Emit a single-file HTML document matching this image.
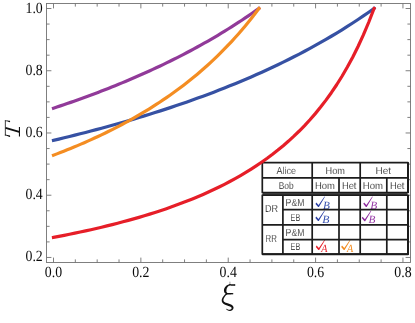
<!DOCTYPE html>
<html><head><meta charset="utf-8"><title>plot</title>
<style>
html,body{margin:0;padding:0;background:#fff;}
svg{display:block;will-change:transform;}
text{font-family:"Liberation Serif",serif;text-rendering:geometricPrecision;}
.tl{font-size:15.6px;fill:#0a0a0a;}
.tb{font-family:"Liberation Sans",sans-serif;font-size:9.3px;fill:#161616;stroke:#fff;stroke-width:0.14px;}
</style></head><body>
<svg width="415" height="323" viewBox="0 0 415 323">
<rect x="0" y="0" width="415" height="323" fill="#fff"/>
<g id="frame" stroke="#727272" stroke-width="0.9" fill="none">
<rect x="46.5" y="3.5" width="364.0" height="259.0"/>
<path d="M53.50 3.50v4.90M53.50 262.50v-4.90M75.34 3.50v3.10M75.34 262.50v-3.10M97.18 3.50v3.10M97.18 262.50v-3.10M119.02 3.50v3.10M119.02 262.50v-3.10M140.86 3.50v4.90M140.86 262.50v-4.90M162.70 3.50v3.10M162.70 262.50v-3.10M184.54 3.50v3.10M184.54 262.50v-3.10M206.38 3.50v3.10M206.38 262.50v-3.10M228.22 3.50v4.90M228.22 262.50v-4.90M250.06 3.50v3.10M250.06 262.50v-3.10M271.90 3.50v3.10M271.90 262.50v-3.10M293.74 3.50v3.10M293.74 262.50v-3.10M315.58 3.50v4.90M315.58 262.50v-4.90M337.42 3.50v3.10M337.42 262.50v-3.10M359.26 3.50v3.10M359.26 262.50v-3.10M381.10 3.50v3.10M381.10 262.50v-3.10M402.94 3.50v4.90M402.94 262.50v-4.90M46.50 257.46h4.90M410.50 257.46h-4.90M46.50 241.90h3.10M410.50 241.90h-3.10M46.50 226.34h3.10M410.50 226.34h-3.10M46.50 210.78h3.10M410.50 210.78h-3.10M46.50 195.22h4.90M410.50 195.22h-4.90M46.50 179.66h3.10M410.50 179.66h-3.10M46.50 164.10h3.10M410.50 164.10h-3.10M46.50 148.54h3.10M410.50 148.54h-3.10M46.50 132.98h4.90M410.50 132.98h-4.90M46.50 117.42h3.10M410.50 117.42h-3.10M46.50 101.86h3.10M410.50 101.86h-3.10M46.50 86.30h3.10M410.50 86.30h-3.10M46.50 70.74h4.90M410.50 70.74h-4.90M46.50 55.18h3.10M410.50 55.18h-3.10M46.50 39.62h3.10M410.50 39.62h-3.10M46.50 24.06h3.10M410.50 24.06h-3.10M46.50 8.50h4.90M410.50 8.50h-4.90"/>
</g>
<g id="ticklabels" class="tl">
<text transform="translate(44.84 277.40) scale(0.888 1)">0.0</text>
<text transform="translate(132.20 277.40) scale(0.888 1)">0.2</text>
<text transform="translate(219.56 277.40) scale(0.888 1)">0.4</text>
<text transform="translate(306.92 277.40) scale(0.888 1)">0.6</text>
<text transform="translate(394.28 277.40) scale(0.888 1)">0.8</text>
<text transform="translate(25.48 261.00) scale(0.888 1)">0.2</text>
<text transform="translate(25.48 199.00) scale(0.888 1)">0.4</text>
<text transform="translate(25.48 137.00) scale(0.888 1)">0.6</text>
<text transform="translate(25.48 75.00) scale(0.888 1)">0.8</text>
<text transform="translate(25.48 13.00) scale(0.888 1)">1.0</text>
</g>
<g id="axislabels">
<g id="xi">
<path d="M229.99 284.05L229.86 284.09L229.70 284.14L229.50 284.20L229.27 284.27L229.02 284.35L228.75 284.44L228.48 284.53L228.19 284.64L227.91 284.75L227.63 284.88L227.36 285.02L227.11 285.17L226.88 285.33L226.65 285.50L226.44 285.67L226.23 285.86L226.02 286.05L225.83 286.24L225.64 286.44L225.46 286.65L225.29 286.85L225.12 287.06L224.97 287.27L224.83 287.48L224.70 287.69L224.58 287.92L224.46 288.14L224.36 288.37L224.28 288.59L224.20 288.82L224.13 289.04L224.08 289.26L224.03 289.48L224.00 289.69L223.97 289.90L223.95 290.12L223.95 290.34L223.95 290.56L223.97 290.78L223.99 291.00L224.03 291.22L224.08 291.43L224.13 291.64L224.20 291.84L224.27 292.04L224.35 292.23L224.44 292.42L224.54 292.64L224.71 292.89L224.90 293.11L225.10 293.28L225.28 293.41L225.45 293.52L225.59 293.60L225.71 293.66L225.79 293.70L225.83 293.71L225.84 293.67L225.84 293.58L225.86 293.49L225.88 293.46L225.88 293.49L225.84 293.57L225.76 293.68L225.65 293.80L225.52 293.94L225.36 294.09L225.19 294.25L225.02 294.42L224.84 294.60L224.66 294.79L224.50 294.99L224.35 295.18L224.20 295.36L224.04 295.56L223.87 295.76L223.71 295.96L223.54 296.17L223.37 296.38L223.21 296.59L223.05 296.81L222.90 297.02L222.76 297.24L222.64 297.45L222.52 297.65L222.42 297.86L222.32 298.06L222.22 298.26L222.13 298.47L222.05 298.67L221.98 298.88L221.91 299.09L221.86 299.31L221.81 299.52L221.78 299.74L221.75 299.96L221.74 300.17L221.73 300.38L221.74 300.60L221.75 300.81L221.77 301.03L221.81 301.25L221.86 301.47L221.92 301.69L222.00 301.90L222.09 302.12L222.19 302.33L222.32 302.54L222.45 302.74L222.60 302.93L222.76 303.11L222.93 303.28L223.10 303.44L223.28 303.60L223.47 303.75L223.67 303.89L223.87 304.03L224.08 304.17L224.29 304.30L224.52 304.43L224.76 304.56L225.02 304.69L225.28 304.81L225.55 304.91L225.82 305.02L226.08 305.12L226.35 305.22L226.61 305.31L226.87 305.40L227.12 305.49L227.36 305.58L227.60 305.68L227.86 305.78L228.13 305.88L228.40 305.98L228.67 306.08L228.94 306.17L229.19 306.26L229.44 306.36L229.67 306.45L229.89 306.53L230.08 306.62L230.25 306.70L230.40 306.78L230.55 306.87L230.69 306.96L230.83 307.05L230.95 307.14L231.07 307.23L231.18 307.31L231.27 307.40L231.35 307.47L231.42 307.54L231.47 307.61L231.52 307.66L231.55 307.70L231.57 307.74L231.60 307.79L231.62 307.86L231.63 307.94L231.64 308.03L231.64 308.13L231.63 308.23L231.61 308.33L231.58 308.43L231.55 308.53L231.51 308.62L231.47 308.70L231.42 308.78L231.35 308.87L231.26 308.97L231.15 309.07L231.03 309.16L230.90 309.25L230.77 309.34L230.63 309.42L230.48 309.50L230.34 309.56L230.21 309.62L230.08 309.66L229.95 309.69L229.81 309.72L229.65 309.74L229.47 309.75L229.29 309.75L229.10 309.74L228.92 309.72L228.73 309.70L228.54 309.67L228.37 309.64L228.20 309.61L228.06 309.58L227.93 309.54L227.80 309.49L227.67 309.43L227.54 309.36L227.41 309.28L227.29 309.20L227.17 309.12L227.05 309.03L226.95 308.95L226.85 308.88L226.76 308.81L226.68 308.76L226.32 309.24L226.37 309.29L226.43 309.35L226.51 309.44L226.61 309.54L226.71 309.65L226.83 309.76L226.95 309.88L227.09 310.00L227.24 310.12L227.40 310.23L227.57 310.33L227.74 310.42L227.92 310.50L228.10 310.57L228.30 310.64L228.50 310.71L228.71 310.77L228.93 310.82L229.16 310.87L229.39 310.91L229.62 310.94L229.85 310.96L230.09 310.96L230.32 310.94L230.55 310.90L230.77 310.85L230.99 310.78L231.21 310.70L231.42 310.61L231.63 310.51L231.84 310.40L232.03 310.28L232.22 310.15L232.40 310.01L232.57 309.86L232.73 309.70L232.87 309.53L233.00 309.35L233.12 309.16L233.22 308.96L233.31 308.75L233.39 308.54L233.45 308.31L233.50 308.08L233.52 307.85L233.52 307.60L233.50 307.35L233.45 307.10L233.38 306.85L233.28 306.63L233.17 306.41L233.04 306.20L232.90 306.00L232.75 305.81L232.58 305.63L232.41 305.45L232.22 305.29L232.03 305.12L231.82 304.97L231.60 304.82L231.35 304.67L231.09 304.53L230.82 304.40L230.55 304.29L230.27 304.18L229.99 304.07L229.72 303.98L229.44 303.88L229.17 303.79L228.90 303.70L228.65 303.61L228.40 303.52L228.13 303.43L227.86 303.34L227.58 303.25L227.31 303.17L227.04 303.09L226.78 303.02L226.53 302.94L226.29 302.87L226.06 302.80L225.85 302.72L225.66 302.65L225.48 302.57L225.31 302.48L225.13 302.39L224.96 302.30L224.80 302.20L224.64 302.11L224.50 302.01L224.37 301.92L224.25 301.83L224.14 301.73L224.05 301.64L223.96 301.55L223.88 301.46L223.82 301.37L223.76 301.28L223.70 301.18L223.65 301.07L223.60 300.96L223.56 300.84L223.53 300.72L223.50 300.59L223.48 300.46L223.46 300.32L223.45 300.18L223.45 300.04L223.45 299.91L223.46 299.77L223.48 299.63L223.50 299.48L223.53 299.33L223.57 299.18L223.62 299.01L223.67 298.85L223.74 298.68L223.81 298.50L223.88 298.33L223.96 298.15L224.05 297.97L224.15 297.79L224.26 297.59L224.38 297.39L224.51 297.19L224.65 296.98L224.79 296.77L224.93 296.57L225.08 296.37L225.23 296.17L225.37 295.98L225.50 295.81L225.63 295.66L225.77 295.52L225.92 295.37L226.09 295.23L226.26 295.08L226.43 294.93L226.61 294.78L226.78 294.62L226.95 294.45L227.10 294.25L227.24 294.01L227.34 293.71L227.36 293.36L227.29 293.03L227.16 292.76L227.02 292.55L226.87 292.38L226.74 292.23L226.63 292.10L226.53 291.98L226.46 291.88L226.43 291.81L226.44 291.78L226.46 291.76L226.45 291.69L226.44 291.58L226.42 291.46L226.42 291.33L226.41 291.20L226.41 291.07L226.41 290.94L226.41 290.81L226.42 290.68L226.43 290.54L226.44 290.42L226.45 290.28L226.46 290.14L226.47 290.00L226.49 289.85L226.50 289.70L226.52 289.56L226.54 289.41L226.56 289.26L226.59 289.12L226.62 288.97L226.66 288.82L226.71 288.67L226.77 288.52L226.84 288.36L226.92 288.19L227.01 288.00L227.11 287.82L227.21 287.63L227.32 287.44L227.44 287.26L227.57 287.08L227.69 286.90L227.83 286.73L227.96 286.57L228.09 286.43L228.23 286.30L228.40 286.16L228.60 286.01L228.81 285.87L229.04 285.73L229.27 285.59L229.50 285.46L229.72 285.34L229.93 285.22L230.12 285.12L230.28 285.03L230.41 284.95Z" fill="#111" stroke="none"/><circle cx="230.20" cy="284.50" r="0.50" fill="#111" stroke="none"/><circle cx="226.50" cy="309.00" r="0.30" fill="#111" stroke="none"/>
<path d="M229.65 285.45L229.79 285.47L229.96 285.49L230.17 285.52L230.40 285.55L230.65 285.58L230.91 285.62L231.18 285.66L231.45 285.69L231.72 285.72L231.98 285.75L232.23 285.78L232.45 285.80L232.67 285.81L232.89 285.83L233.11 285.83L233.32 285.84L233.54 285.84L233.74 285.85L233.94 285.85L234.12 285.85L234.29 285.85L234.44 285.85L234.56 285.85L234.67 285.85L234.73 284.35L234.63 284.34L234.50 284.33L234.35 284.32L234.18 284.31L234.00 284.29L233.81 284.28L233.60 284.26L233.40 284.25L233.18 284.23L232.97 284.22L232.76 284.21L232.55 284.20L232.33 284.19L232.09 284.19L231.83 284.18L231.56 284.18L231.29 284.17L231.02 284.17L230.75 284.16L230.50 284.16L230.27 284.16L230.06 284.16L229.89 284.15L229.75 284.15Z" fill="#111" stroke="none"/><circle cx="229.70" cy="284.80" r="0.65" fill="#111" stroke="none"/><circle cx="234.70" cy="285.10" r="0.75" fill="#111" stroke="none"/>
<path d="M226.60 294.40L226.74 294.40L226.91 294.40L227.11 294.40L227.34 294.40L227.59 294.40L227.85 294.40L228.12 294.40L228.40 294.40L228.69 294.40L228.97 294.40L229.24 294.40L229.50 294.40L229.77 294.40L230.05 294.39L230.35 294.39L230.66 294.39L230.97 294.38L231.28 294.38L231.58 294.37L231.86 294.36L232.12 294.36L232.35 294.36L232.54 294.35L232.70 294.35L232.70 293.05L232.54 293.05L232.35 293.04L232.12 293.04L231.86 293.04L231.58 293.03L231.28 293.02L230.97 293.02L230.66 293.01L230.35 293.01L230.05 293.01L229.77 293.00L229.50 293.00L229.24 293.00L228.97 293.00L228.69 293.00L228.40 293.00L228.12 293.00L227.85 293.00L227.59 293.00L227.34 293.00L227.11 293.00L226.91 293.00L226.74 293.00L226.60 293.00Z" fill="#111" stroke="none"/><circle cx="226.60" cy="293.70" r="0.70" fill="#111" stroke="none"/><circle cx="232.70" cy="293.70" r="0.65" fill="#111" stroke="none"/>
<path d="M229.9 281.7V284.2" stroke="#777" stroke-width="0.7" fill="none"/>
</g>
<g stroke="#111" fill="none" stroke-linecap="butt">
<path d="M5.35 120.4V135.6" stroke-width="0.8"/>
<path d="M5.07 121.10L5.19 121.11L5.34 121.13L5.52 121.14L5.72 121.16L5.93 121.18L6.15 121.20L6.38 121.23L6.61 121.25L6.83 121.28L7.05 121.32L7.25 121.35L7.42 121.39L7.59 121.44L7.77 121.50L7.95 121.56L8.13 121.63L8.31 121.70L8.49 121.77L8.66 121.84L8.82 121.91L8.97 121.98L9.10 122.03L9.22 122.09L9.32 122.12L9.68 120.88L9.59 120.86L9.47 120.84L9.33 120.81L9.17 120.78L9.00 120.74L8.81 120.70L8.61 120.67L8.41 120.63L8.20 120.59L7.99 120.56L7.78 120.53L7.58 120.51L7.37 120.49L7.14 120.47L6.91 120.46L6.67 120.45L6.44 120.44L6.20 120.43L5.97 120.42L5.76 120.42L5.56 120.41L5.39 120.41L5.24 120.40L5.13 120.40Z" fill="#111" stroke="none"/><circle cx="5.10" cy="120.75" r="0.35" fill="#111" stroke="none"/><circle cx="9.50" cy="121.50" r="0.65" fill="#111" stroke="none"/>
<path d="M5.02 135.24L5.13 135.28L5.28 135.32L5.45 135.37L5.65 135.43L5.86 135.49L6.08 135.56L6.31 135.63L6.53 135.70L6.76 135.77L6.97 135.84L7.18 135.91L7.36 135.98L7.53 136.05L7.71 136.13L7.90 136.21L8.08 136.29L8.26 136.38L8.44 136.46L8.61 136.54L8.77 136.62L8.92 136.69L9.05 136.76L9.17 136.81L9.26 136.86L9.74 135.54L9.64 135.52L9.52 135.49L9.38 135.45L9.22 135.41L9.05 135.36L8.86 135.31L8.66 135.26L8.46 135.21L8.25 135.16L8.05 135.11L7.84 135.07L7.64 135.02L7.44 134.98L7.22 134.93L6.99 134.89L6.75 134.84L6.51 134.80L6.27 134.76L6.04 134.71L5.83 134.68L5.63 134.64L5.45 134.61L5.30 134.58L5.18 134.56Z" fill="#111" stroke="none"/><circle cx="5.10" cy="134.90" r="0.35" fill="#111" stroke="none"/><circle cx="9.50" cy="136.20" r="0.70" fill="#111" stroke="none"/>
<path d="M5.5 127.9L19.2 131.9" stroke-width="1.9"/>
<path d="M19.45 127.0V136.4" stroke-width="1.1"/>
</g>
</g>
<g id="table">
<rect x="262.4" y="162.5" width="145.6" height="91.3" fill="#fff"/>
<rect x="262.8" y="192.6" width="144.5" height="2.6" fill="#585858"/>
<path d="M315.50 203.90L316.30 202.60L318.60 205.00L324.50 196.50L324.95 196.75L318.90 207.10L318.10 207.10Z" fill="#2c40a4"/>
<text transform="translate(322.90 208.70) scale(1.0266 1)" style="font-style:italic;font-size:11.0px;fill:#3852b0;">B</text>
<path d="M315.40 217.90L316.20 216.60L318.50 219.00L324.40 210.50L324.85 210.75L318.80 221.10L318.00 221.10Z" fill="#2c40a4"/>
<text transform="translate(322.20 223.30) scale(1.0713 1)" style="font-style:italic;font-size:11.0px;fill:#3852b0;">B</text>
<path d="M363.30 203.80L364.10 202.50L366.40 204.90L372.30 196.40L372.75 196.65L366.70 207.00L365.90 207.00Z" fill="#8c2a9c"/>
<text transform="translate(370.20 208.70) scale(1.0415 1)" style="font-style:italic;font-size:11.0px;fill:#9638a6;">B</text>
<path d="M361.80 218.10L362.60 216.80L364.90 219.20L370.80 210.70L371.25 210.95L365.20 221.30L364.40 221.30Z" fill="#8c2a9c"/>
<text transform="translate(368.40 223.40) scale(1.0266 1)" style="font-style:italic;font-size:11.0px;fill:#9638a6;">B</text>
<path d="M315.80 246.90L316.60 245.60L318.90 248.00L324.80 239.50L325.25 239.75L319.20 250.10L318.40 250.10Z" fill="#e61e28"/>
<text transform="translate(321.36 251.60) scale(0.9227 1)" style="font-style:italic;font-size:11.0px;fill:#e61e28;">A</text>
<path d="M341.20 246.90L342.00 245.60L344.30 248.00L350.20 239.50L350.65 239.75L344.60 250.10L343.80 250.10Z" fill="#f28a1d"/>
<text transform="translate(346.96 251.60) scale(0.9227 1)" style="font-style:italic;font-size:11.0px;fill:#f28a1d;">A</text>
<g stroke="#1c1c1c" stroke-width="1.7" stroke-linecap="round" stroke-linejoin="round" fill="none">
<path d="M262.30 162.70H407.90M262.30 177.80H407.90M262.30 192.60H407.90M262.30 162.70V192.60M312.20 162.70V192.60M360.20 162.70V192.60M339.00 177.80V192.60M386.80 177.80V192.60M262.30 195.20H407.90M282.90 209.70H407.90M262.30 224.80H407.90M282.90 239.70H407.90M262.30 254.10H407.90M262.30 195.20V254.10M282.90 195.20V254.10M312.20 195.20V254.10M339.00 195.20V254.10M360.20 195.20V254.10M386.80 195.20V254.10"/>
<path d="M408.00 162.30V192.90M408.00 194.90V254.20H262.30" stroke-width="2.0" stroke-linecap="butt" stroke-linejoin="round"/>
</g>
<text class="tb" transform="translate(276.40 173.50) scale(0.9132 1)" style="font-size:9.9px">Alice</text>
<text class="tb" transform="translate(278.75 189.20) scale(0.8517 1)" style="font-size:9.9px">Bob</text>
<text class="tb" transform="translate(325.60 173.50) scale(0.9283 1)" style="font-size:9.9px">Hom</text>
<text class="tb" transform="translate(375.50 173.50) scale(1.0127 1)" style="font-size:9.9px">Het</text>
<text class="tb" transform="translate(315.00 189.00) scale(0.9570 1)" style="font-size:9.9px">Hom</text>
<text class="tb" transform="translate(341.90 189.00) scale(0.9478 1)" style="font-size:9.9px">Het</text>
<text class="tb" transform="translate(362.75 189.00) scale(0.9690 1)" style="font-size:9.9px">Hom</text>
<text class="tb" transform="translate(389.90 189.00) scale(0.9478 1)" style="font-size:9.9px">Het</text>
<text class="tb" transform="translate(265.00 212.30) scale(0.8982 1)" style="font-size:10.1px">DR</text>
<text class="tb" transform="translate(265.60 241.75) scale(0.7748 1)" style="font-size:10.1px">RR</text>
<text class="tb" transform="translate(285.60 206.30) scale(0.8590 1)" style="font-size:10.1px">P&amp;M</text>
<text class="tb" transform="translate(290.60 221.40) scale(0.7162 1)" style="font-size:10.1px">EB</text>
<text class="tb" transform="translate(285.60 235.70) scale(0.8590 1)" style="font-size:10.1px">P&amp;M</text>
<text class="tb" transform="translate(290.60 250.40) scale(0.7162 1)" style="font-size:10.1px">EB</text>
</g>
<g id="curves">
<polyline points="53.50,140.36 58.84,139.09 64.19,137.79 69.53,136.48 74.87,135.15 80.21,133.80 85.56,132.43 90.90,131.03 96.24,129.62 101.59,128.19 106.93,126.73 112.27,125.26 117.61,123.76 122.96,122.23 128.30,120.68 133.64,119.11 138.99,117.51 144.33,115.89 149.67,114.24 155.01,112.57 160.36,110.86 165.70,109.13 171.04,107.37 176.39,105.58 181.73,103.76 187.07,101.90 192.41,100.02 197.76,98.10 203.10,96.15 208.44,94.17 213.79,92.14 219.13,90.09 224.47,87.99 229.81,85.86 235.16,83.68 240.50,81.47 245.84,79.21 251.18,76.91 256.53,74.57 261.87,72.18 267.21,69.74 272.56,67.26 277.90,64.72 283.24,62.13 288.58,59.49 293.93,56.80 299.27,54.05 304.61,51.24 309.96,48.37 315.30,45.44 320.64,42.44 325.98,39.38 331.33,36.25 336.67,33.05 342.01,29.78 347.36,26.43 352.70,23.00 358.04,19.49 363.38,15.90 368.73,12.22 374.07,8.45" fill="none" stroke="#3651a3" stroke-width="3.2" stroke-linejoin="round" stroke-linecap="square"/>
<polyline points="53.50,108.17 56.92,107.03 60.35,105.88 63.77,104.72 67.20,103.55 70.62,102.37 74.04,101.17 77.47,99.95 80.89,98.73 84.32,97.49 87.74,96.24 91.16,94.97 94.59,93.69 98.01,92.39 101.44,91.08 104.86,89.75 108.28,88.41 111.71,87.05 115.13,85.68 118.56,84.29 121.98,82.88 125.40,81.45 128.83,80.01 132.25,78.55 135.68,77.08 139.10,75.58 142.52,74.07 145.95,72.54 149.37,70.98 152.80,69.41 156.22,67.82 159.64,66.21 163.07,64.58 166.49,62.92 169.92,61.25 173.34,59.55 176.76,57.83 180.19,56.09 183.61,54.32 187.04,52.53 190.46,50.72 193.88,48.88 197.31,47.02 200.73,45.13 204.16,43.21 207.58,41.27 211.00,39.29 214.43,37.30 217.85,35.27 221.28,33.21 224.70,31.12 228.12,29.01 231.55,26.86 234.97,24.68 238.40,22.46 241.82,20.22 245.24,17.93 248.67,15.62 252.09,13.27 255.52,10.88 258.94,8.45" fill="none" stroke="#913a99" stroke-width="3.2" stroke-linejoin="round" stroke-linecap="square"/>
<polyline points="53.50,155.19 56.92,153.88 60.35,152.56 63.77,151.22 67.20,149.85 70.62,148.46 74.04,147.05 77.47,145.61 80.89,144.15 84.32,142.67 87.74,141.16 91.16,139.62 94.59,138.06 98.01,136.47 101.44,134.86 104.86,133.21 108.28,131.53 111.71,129.83 115.13,128.09 118.56,126.32 121.98,124.52 125.40,122.68 128.83,120.81 132.25,118.90 135.68,116.96 139.10,114.97 142.52,112.95 145.95,110.89 149.37,108.79 152.80,106.64 156.22,104.45 159.64,102.22 163.07,99.93 166.49,97.60 169.92,95.22 173.34,92.79 176.76,90.30 180.19,87.76 183.61,85.16 187.04,82.50 190.46,79.79 193.88,77.01 197.31,74.16 200.73,71.25 204.16,68.26 207.58,65.20 211.00,62.07 214.43,58.86 217.85,55.57 221.28,52.20 224.70,48.74 228.12,45.18 231.55,41.53 234.97,37.79 238.40,33.94 241.82,29.99 245.24,25.92 248.67,21.74 252.09,17.44 255.52,13.01 258.94,8.45" fill="none" stroke="#f48d22" stroke-width="3.2" stroke-linejoin="round" stroke-linecap="square"/>
<polyline points="53.50,237.42 58.84,236.40 64.19,235.35 69.53,234.28 74.87,233.18 80.21,232.05 85.56,230.89 90.90,229.70 96.24,228.47 101.59,227.22 106.93,225.92 112.27,224.60 117.61,223.23 122.96,221.82 128.30,220.37 133.64,218.88 138.99,217.35 144.33,215.76 149.67,214.13 155.01,212.44 160.36,210.70 165.70,208.90 171.04,207.04 176.39,205.11 181.73,203.12 187.07,201.06 192.41,198.93 197.76,196.72 203.10,194.42 208.44,192.04 213.79,189.56 219.13,186.99 224.47,184.31 229.81,181.52 235.16,178.62 240.50,175.59 245.84,172.42 251.18,169.12 256.53,165.66 261.87,162.04 267.21,158.25 272.56,154.27 277.90,150.09 283.24,145.69 288.58,141.06 293.93,136.17 299.27,131.01 304.61,125.55 309.96,119.76 315.30,113.62 320.64,107.09 325.98,100.13 331.33,92.70 336.67,84.76 342.01,76.23 347.36,67.06 352.70,57.17 358.04,46.48 363.38,34.88 368.73,22.25 374.07,8.45" fill="none" stroke="#e61e28" stroke-width="3.2" stroke-linejoin="round" stroke-linecap="square"/>
</g>
</svg>
</body></html>
